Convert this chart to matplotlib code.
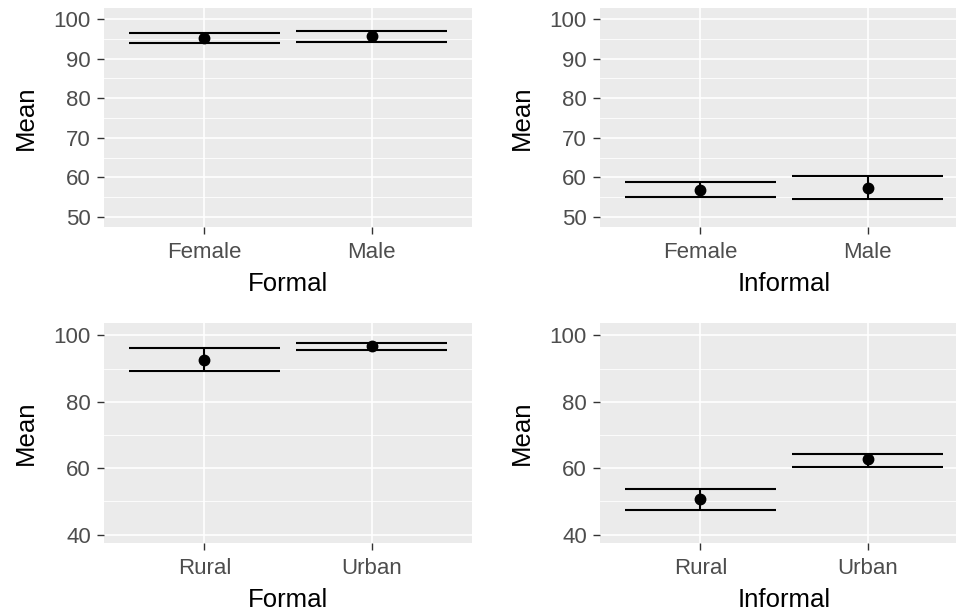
import matplotlib
matplotlib.use("Agg")
import matplotlib.pyplot as plt
from matplotlib.ticker import MultipleLocator

plt.rcParams['font.family'] = ['Liberation Sans', 'DejaVu Sans']

# mean and confidence limits per group
sex_groups = ['Female', 'Male']
formal_sex_mean = [95.3, 95.7]
formal_sex_low = [93.9, 94.3]
formal_sex_high = [96.6, 97.1]
informal_sex_mean = [56.9, 57.4]
informal_sex_low = [55.0, 54.5]
informal_sex_high = [58.8, 60.4]

area_groups = ['Rural', 'Urban']
formal_area_mean = [92.7, 96.7]
formal_area_low = [89.3, 95.5]
formal_area_high = [96.1, 97.8]
informal_area_mean = [50.8, 62.7]
informal_area_low = [47.3, 60.4]
informal_area_high = [53.6, 64.4]

W, H = 956, 613
fig = plt.figure(figsize=(W / 100, H / 100), dpi=100)


def panel(px, py, pw, ph):
    return fig.add_axes([px / W, 1 - (py + ph) / H, pw / W, ph / H])


def draw(ax, groups, mean, low, high, xlabel, ylim, major, minor):
    ax.set_facecolor('#EBEBEB')
    for s in ax.spines.values():
        s.set_visible(False)
    x = list(range(len(groups)))
    ax.set_xlim(-0.6, len(groups) - 0.4)
    ax.set_ylim(*ylim)
    ax.yaxis.set_major_locator(MultipleLocator(major))
    ax.yaxis.set_minor_locator(MultipleLocator(minor))
    ax.grid(which='major', color='white', linewidth=1.2)
    ax.grid(which='minor', axis='y', color='white', linewidth=0.6)
    ax.set_axisbelow(True)
    ax.set_xticks(x)
    ax.set_xticklabels(groups)
    ax.tick_params(which='major', length=5, width=1.0, color='#333333',
                   labelcolor='#4D4D4D', labelsize=16, pad=4.5)
    ax.tick_params(axis='x', pad=6)
    ax.tick_params(which='minor', length=0)
    ax.set_xlabel(xlabel, fontsize=18.5, labelpad=6)
    ax.set_ylabel('Mean', fontsize=18.5, labelpad=11)
    ax.vlines(x, low, high, color='black', linewidth=1.5)
    ax.hlines(low, [i - 0.45 for i in x], [i + 0.45 for i in x],
              color='black', linewidth=1.5)
    ax.hlines(high, [i - 0.45 for i in x], [i + 0.45 for i in x],
              color='black', linewidth=1.5)
    ax.plot(x, mean, 'o', color='black', markersize=7.5)


ax1 = panel(104, 8, 368, 219)
draw(ax1, sex_groups, formal_sex_mean, formal_sex_low, formal_sex_high,
     'Formal', (47.5, 102.8), 10, 5)
ax2 = panel(600, 8, 368, 219)
draw(ax2, sex_groups, informal_sex_mean, informal_sex_low, informal_sex_high,
     'Informal', (47.5, 102.8), 10, 5)
ax3 = panel(104, 323, 368, 220)
draw(ax3, area_groups, formal_area_mean, formal_area_low, formal_area_high,
     'Formal', (37.5, 103.7), 20, 10)
ax4 = panel(600, 323, 368, 220)
draw(ax4, area_groups, informal_area_mean, informal_area_low, informal_area_high,
     'Informal', (37.5, 103.7), 20, 10)

fig.savefig('out.png', dpi=100)
